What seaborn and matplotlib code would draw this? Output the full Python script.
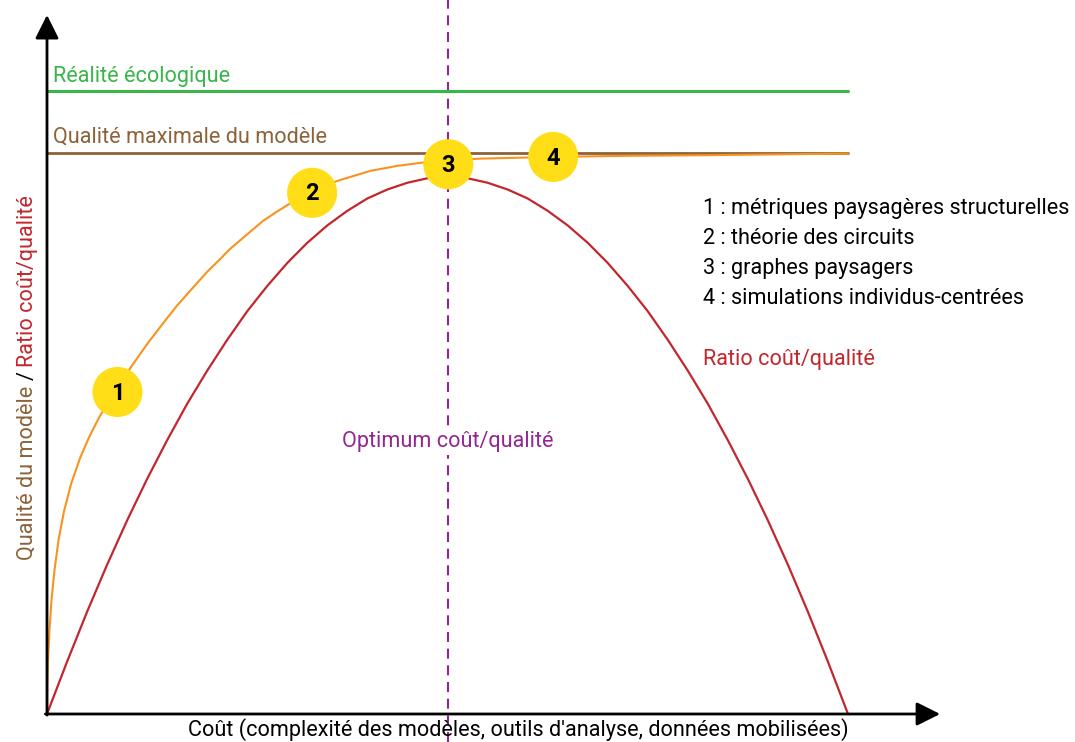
import matplotlib
matplotlib.use("Agg")
import matplotlib.pyplot as plt
import seaborn as sns

# ---- data ----
# orange curve: model quality vs cost (saturating)
quality_x = [0, 0.004, 0.012, 0.031, 0.056, 0.094, 0.144, 0.212, 0.300, 0.412,
             0.524, 0.649, 0.762, 0.874, 1.061, 1.248, 1.436, 1.623, 1.810,
             1.998, 2.141, 2.285, 2.491, 2.697, 2.865, 3.034, 3.308, 3.620,
             3.826, 4.032, 4.370, 4.694, 5.044, 5.406, 6.317, 7.241, 8.152,
             9.076, 10.0]
quality_y = [0, 0.53, 0.96, 1.50, 2.03, 2.57, 3.10, 3.61, 4.10, 4.56,
             4.93, 5.28, 5.56, 5.82, 6.21, 6.59, 6.94, 7.28, 7.58,
             7.88, 8.08, 8.29, 8.54, 8.79, 8.95, 9.10, 9.31, 9.50,
             9.59, 9.68, 9.77, 9.83, 9.87, 9.90, 9.93, 9.95, 9.96,
             9.975, 9.99]

# red curve: cost/quality ratio
ratio_x = [0, 0.25, 0.5, 0.75, 1, 1.25, 1.5, 1.75, 2, 2.25, 2.5, 2.75, 3, 3.25,
           3.5, 3.75, 4, 4.25, 4.5, 4.75, 5, 5.25, 5.5, 5.75, 6, 6.25, 6.5,
           6.75, 7, 7.25, 7.5, 7.75, 8, 8.25, 8.5, 8.75, 9, 9.25, 9.5, 9.75, 10]
ratio_y = [0, 0.93, 1.82, 2.66, 3.45, 4.19, 4.88, 5.53, 6.12, 6.67, 7.18, 7.63,
           8.04, 8.40, 8.71, 8.97, 9.19, 9.35, 9.47, 9.55, 9.57, 9.55, 9.47,
           9.35, 9.19, 8.97, 8.71, 8.40, 8.04, 7.63, 7.18, 6.67, 6.12, 5.53,
           4.88, 4.19, 3.45, 2.66, 1.82, 0.93, 0]

ecological_reality = 11.10
max_quality = 10.0
optimum_x = 5.0

method_ids = ["1", "2", "3", "4"]
method_x = [0.88, 3.31, 5.01, 6.32]
method_y = [5.74, 9.29, 9.80, 9.93]
method_names = ["métriques paysagères structurelles", "théorie des circuits",
                "graphes paysagers", "simulations individus-centrées"]

GREEN = "#39B54A"
BROWN = "#8C6239"
ORANGE = "#F7931E"
RED = "#C1272D"
PURPLE = "#93278F"
YELLOW = "#FFDE17"

sns.set_theme(style="white")
plt.rcParams["font.family"] = ["Roboto", "DejaVu Sans"]
FS = 15.6

fig = plt.figure(figsize=(10.75, 7.42), dpi=100)
ax = fig.add_axes([0, 0, 1, 1])
# 1 x unit = 80.1 px, 1 y unit = 56.1 px, origin at pixel (47, 714)
ax.set_xlim(-47 / 80.1, (1075 - 47) / 80.1)
ax.set_ylim((714 - 742) / 56.1, 714 / 56.1)
ax.axis("off")

# reference lines
ax.plot([0, 10], [ecological_reality] * 2, color=GREEN, lw=2.2, zorder=2)
ax.plot([0, 10], [max_quality] * 2, color=BROWN, lw=2.0, zorder=2)
ax.axvline(optimum_x, color=PURPLE, lw=1.5, ls=(0, (4.8, 3.2)), zorder=1)

# curves
sns.lineplot(x=quality_x, y=quality_y, ax=ax, color=ORANGE, lw=1.5, zorder=3)
sns.lineplot(x=ratio_x, y=ratio_y, ax=ax, color=RED, lw=1.6, zorder=3)

# axes arrows
arrow_kw = dict(arrowstyle="-|>,head_length=0.8,head_width=0.4", color="black",
                lw=2.0, shrinkA=0, shrinkB=0, mutation_scale=18)
ax.annotate("", xy=(0, 12.46), xytext=(0, -0.02), arrowprops=arrow_kw, zorder=4)
ax.annotate("", xy=(11.15, 0), xytext=(-0.02, 0), arrowprops=arrow_kw, zorder=4)

# method markers
ax.scatter(method_x, method_y, s=1300, color=YELLOW, edgecolor="none", zorder=5)
for mid, mx, my in zip(method_ids, method_x, method_y):
    ax.text(mx, my - 0.02, mid, ha="center", va="center", fontsize=17,
            fontweight="bold", color="black", zorder=6)

# labels
ax.text(0.07, 11.26, "Réalité écologique", color=GREEN, fontsize=FS, va="baseline")
ax.text(0.07, 10.18, "Qualité maximale du modèle", color=BROWN, fontsize=FS,
        va="baseline")
for i, (mid, name) in enumerate(zip(method_ids, method_names)):
    ax.text(8.19, 8.92 - i * 0.535, f"{mid} : {name}", color="black",
            fontsize=FS, va="baseline")
ax.text(8.19, 6.22, "Ratio coût/qualité", color=RED, fontsize=FS, va="baseline")
ax.text(optimum_x, 4.76, "Optimum coût/qualité", color=PURPLE, fontsize=FS,
        ha="center", va="baseline", zorder=4,
        bbox=dict(facecolor="white", edgecolor="none", pad=2))
ax.text(5.89, -0.39, "Coût (complexité des modèles, outils d'analyse, données mobilisées)",
        color="black", fontsize=FS, ha="center", va="baseline")

# multicoloured vertical y label
fig.canvas.draw()
renderer = fig.canvas.get_renderer()
inv = ax.transData.inverted()
ypos = 2.75
for part, col in [("Qualité du modèle", BROWN), ("/", "black"),
                  ("Ratio coût/qualité", RED)]:
    t = ax.text(-0.175, ypos, part, color=col, fontsize=FS, rotation=90,
                rotation_mode="anchor", ha="left", va="baseline")
    bb = t.get_window_extent(renderer)
    top = inv.transform((bb.x1, bb.y1))[1]
    ypos = top + 0.09

fig.savefig("out.png", dpi=100)
